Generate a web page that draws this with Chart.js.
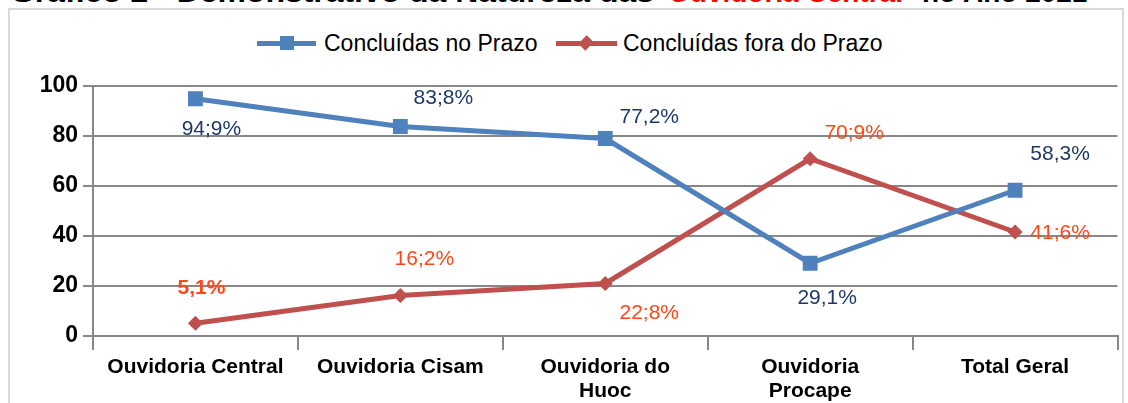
<!DOCTYPE html>
<html>
<head>
<meta charset="utf-8">
<script src="https://cdn.jsdelivr.net/npm/chart.js@4.4.1/dist/chart.umd.min.js"></script>
<style>
  body { margin:0; background:#fff; overflow:hidden; font-family:"Liberation Sans", Arial, sans-serif; }
  #wrap { position:relative; width:1128px; height:403px; overflow:hidden; }
  #frame { position:absolute; left:8px; top:8px; width:1116px; height:420px; border:2px solid #d9d9d9; box-sizing:border-box; }
  .ttl { position:absolute; top:-21px; font-size:28px; line-height:28px; font-weight:bold; white-space:nowrap; color:#000; transform-origin:0 0; }
  .leg { position:absolute; top:30px; height:26px; }
  .legline { position:absolute; top:11px; height:5px; }
  .legmark { position:absolute; }
  .legtxt { position:absolute; top:0; font-size:23px; line-height:26px; color:#000; white-space:nowrap; }
  canvas { position:absolute; left:0; top:0; }
</style>
</head>
<body>
<div id="wrap">
  <div id="frame"></div>
  <div class="ttl" style="left:10px;transform:scaleX(1.14)">Gráfico 2 - Demonstrativo da Natureza das</div>
  <div class="ttl" style="left:668px;color:#ff0000">Ouvidoria Central</div>
  <div class="ttl" style="left:922px">no Ano 2021</div>

  <div class="leg" style="left:0">
    <div class="legline" style="left:257px;width:59px;background:#4f81bd"></div>
    <div class="legmark" style="left:280px;top:6px;width:14px;height:14px;background:#4f81bd"></div>
    <div class="legtxt" style="left:324px" id="lt1"></div>
  </div>
  <div class="leg" style="left:0">
    <div class="legline" style="left:556px;width:61px;background:#c0504d"></div>
    <div class="legmark" style="left:581px;top:8px;width:10px;height:10px;background:#c0504d;transform:rotate(45deg) scale(1,1.2)"></div>
    <div class="legtxt" style="left:623px" id="lt2"></div>
  </div>

  <canvas id="chart" width="1128" height="403"></canvas>
</div>
<script>
// data
var categories = ["Ouvidoria Central", "Ouvidoria Cisam", ["Ouvidoria do", "Huoc"], ["Ouvidoria", "Procape"], "Total Geral"]
var seriesNames = ["Concluídas no Prazo", "Concluídas fora do Prazo"]
var noPrazo = [94.9, 83.8, 79, 29.1, 58.3]
var foraPrazo = [5.1, 16.2, 21, 70.9, 41.6]
var noPrazoLabels = ["94;9%", "83;8%", "77,2%", "29,1%", "58,3%"]
var foraPrazoLabels = ["5,1%", "16;2%", "22;8%", "70;9%", "41;6%"]
var yTicks = [0, 20, 40, 60, 80, 100]

// label placement (offset from the point, px)
var noPrazoOff = [[16, 30], [43, -28], [44, -21], [17, 35], [45, -36]]
var foraPrazoOff = [[6, -35], [24, -36], [44, 30], [44, -26], [45, 1]]

document.getElementById("lt1").textContent = seriesNames[0]
document.getElementById("lt2").textContent = seriesNames[1]

var gridGrey = "#888888"

// draws the value labels next to the points
var pointLabels = {
  id: "pointLabels",
  afterDatasetsDraw: function(chart) {
    var c = chart.ctx
    chart.data.datasets.forEach(function(ds, di) {
      var meta = chart.getDatasetMeta(di)
      meta.data.forEach(function(pt, i) {
        var off = ds.labelOff[i]
        c.save()
        c.font = (ds.labelBold[i] ? "bold " : "") + "21px 'Liberation Sans', Arial, sans-serif"
        c.fillStyle = ds.labelColor
        c.textAlign = "center"
        c.textBaseline = "middle"
        c.fillText(ds.labels[i], pt.x + off[0], pt.y + off[1])
        c.restore()
      })
    })
  }
}

var ctx = document.getElementById("chart").getContext("2d")
var chart = new Chart(ctx, {
  type: "line",
  data: {
    labels: categories,
    datasets: [
      {
        label: seriesNames[0],
        data: noPrazo,
        borderColor: "#4f81bd",
        backgroundColor: "#4f81bd",
        borderWidth: 5,
        tension: 0,
        pointStyle: "rect",
        pointRadius: 10.5,
        pointBorderWidth: 0,
        labels: noPrazoLabels,
        labelOff: noPrazoOff,
        labelColor: "#1f3864",
        labelBold: [false, false, false, false, false]
      },
      {
        label: seriesNames[1],
        data: foraPrazo,
        borderColor: "#c0504d",
        backgroundColor: "#c0504d",
        borderWidth: 5,
        tension: 0,
        pointStyle: "rectRot",
        pointRadius: 7.5,
        pointBorderWidth: 0,
        labels: foraPrazoLabels,
        labelOff: foraPrazoOff,
        labelColor: "#ff4719",
        labelBold: [true, false, false, false, false]
      }
    ]
  },
  options: {
    responsive: false,
    animation: false,
    layout: { padding: { top: 86, right: 10, left: 0, bottom: 0 } },
    plugins: {
      legend: { display: false },
      tooltip: { enabled: false }
    },
    scales: {
      x: {
        offset: true,
        afterFit: function(scale) { scale.height = 67 },
        grid: { offset: true, drawOnChartArea: false, drawTicks: true, tickLength: 14, color: gridGrey, lineWidth: 2 },
        border: { color: gridGrey, width: 2 },
        ticks: {
          color: "#000",
          padding: 5,
          maxRotation: 0,
          autoSkip: false,
          font: { family: "'Liberation Sans', Arial, sans-serif", size: 21, weight: "bold", lineHeight: 1.15 }
        }
      },
      y: {
        min: 0,
        max: 100,
        afterFit: function(scale) { scale.width = 93 },
        grid: { color: gridGrey, lineWidth: 2, tickLength: 10 },
        border: { color: gridGrey, width: 2 },
        ticks: {
          stepSize: 10,
          color: "#000",
          padding: 5,
          font: { family: "'Liberation Sans', Arial, sans-serif", size: 23, weight: "bold" },
          callback: function(value) {
            return yTicks.indexOf(value) >= 0 ? value : ""
          }
        }
      }
    }
  },
  plugins: [pointLabels]
})
</script>
</body>
</html>
